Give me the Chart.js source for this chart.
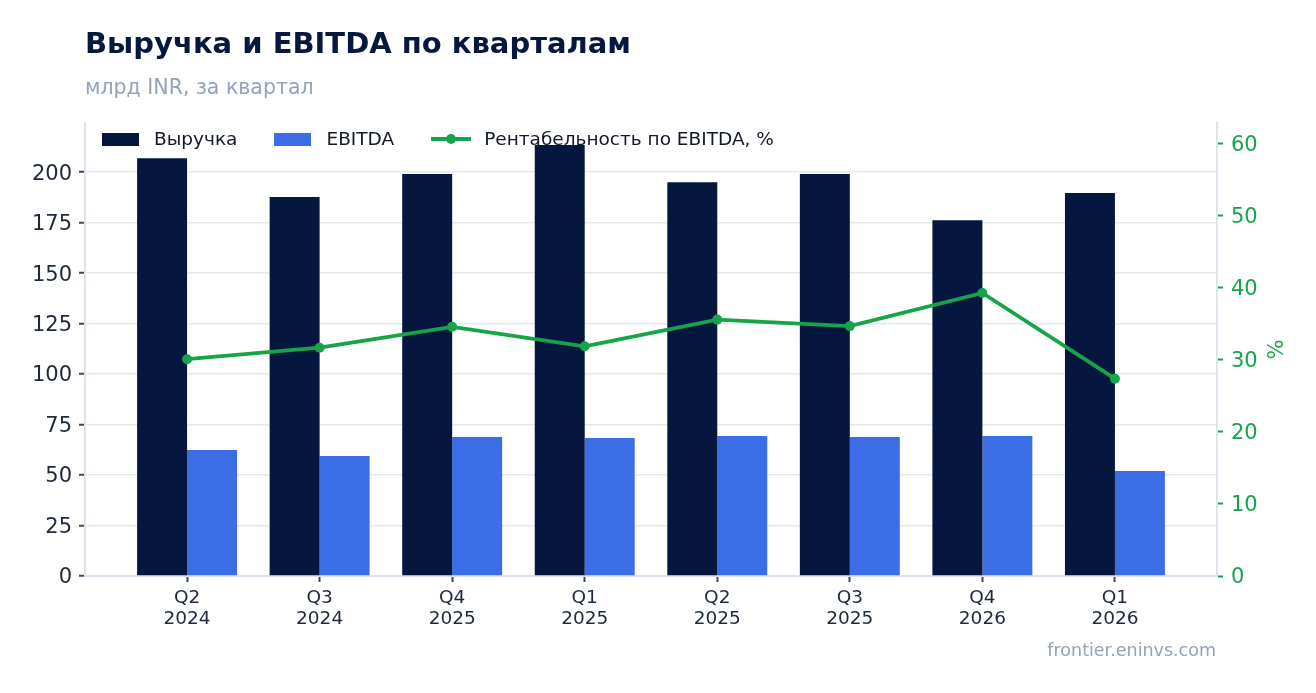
<!DOCTYPE html>
<html lang="ru">
<head>
<meta charset="utf-8">
<title>Выручка и EBITDA по кварталам</title>
<script src="https://cdn.jsdelivr.net/npm/chart.js@4.4.1/dist/chart.umd.min.js"></script>
<style>
  html, body { margin: 0; padding: 0; background: #fff; }
  body { font-family: "DejaVu Sans", sans-serif; }
  .wrap { position: relative; width: 1316px; height: 693px; overflow: hidden; }
  #chart { position: absolute; left: 0; top: 0; }
  .title { position: absolute; left: 85px; top: 28.5px; font-size: 29px; line-height: 1; font-weight: bold; color: #07183f; white-space: nowrap; }
  .subtitle { position: absolute; left: 85px; top: 77px; font-size: 20.5px; line-height: 1; color: #94a3b8; white-space: nowrap; }
  .legend { position: absolute; left: 102px; top: 130px; display: flex; align-items: center; font-size: 18.5px; line-height: 1; color: #111827; white-space: nowrap; }
  .legend .item { display: flex; align-items: center; margin-right: 37px; }
  .legend .sw { display: inline-block; width: 37px; height: 13px; margin-right: 15px; }
  .legend .ln { position: relative; display: inline-block; width: 40px; height: 13px; margin-right: 13px; }
  .legend .ln::before { content: ""; position: absolute; left: 0; right: 0; top: 4.5px; height: 4px; background: var(--c); }
  .legend .ln::after { content: ""; position: absolute; left: 15px; top: 1.5px; width: 10px; height: 10px; border-radius: 50%; background: var(--c); }
  .source { position: absolute; right: 100px; top: 642px; font-size: 17.5px; line-height: 1; color: #94a3b8; white-space: nowrap; }
</style>
</head>
<body>
<div class="wrap">
  <canvas id="chart" width="1316" height="693"></canvas>
  <div class="title">Выручка и EBITDA по кварталам</div>
  <div class="subtitle">млрд INR, за квартал</div>
  <div class="legend" id="legend"></div>
  <div class="source">frontier.eninvs.com</div>
</div>
<script>
// данные по кварталам
const quarters = ['Q2', 'Q3', 'Q4', 'Q1', 'Q2', 'Q3', 'Q4', 'Q1'];
const years = ['2024', '2024', '2025', '2025', '2025', '2025', '2026', '2026'];
const revenue = [206.9, 187.6, 199.0, 213.4, 195.0, 199.0, 176.2, 189.6];
const ebitda = [62.4, 59.4, 68.8, 68.3, 69.3, 68.8, 69.3, 52.0];
const margin = [30.1, 31.7, 34.6, 31.9, 35.6, 34.7, 39.3, 27.4];
const leftTicks = [0, 25, 50, 75, 100, 125, 150, 175, 200];
const rightTicks = [0, 10, 20, 30, 40, 50, 60];

const names = ['Выручка', 'EBITDA', 'Рентабельность по EBITDA, %'];
const NAVY = '#05173f';
const BLUE = '#3b6de6';
const GREEN = '#16a34a';
const TEXT = '#1e293b';
const GRID = '#e5e9f0';

const toXY = arr => arr.map((v, i) => ({ x: i, y: v }));

// легенда
const legendEl = document.getElementById('legend');
[[names[0], NAVY, 'sw'], [names[1], BLUE, 'sw'], [names[2], GREEN, 'ln']].forEach(([name, color, kind]) => {
  const item = document.createElement('span');
  item.className = 'item';
  const mark = document.createElement('span');
  mark.className = kind;
  if (kind === 'sw') mark.style.background = color;
  else mark.style.setProperty('--c', color);
  const txt = document.createElement('span');
  txt.textContent = name;
  item.appendChild(mark);
  item.appendChild(txt);
  legendEl.appendChild(item);
});

const ctx = document.getElementById('chart').getContext('2d');
new Chart(ctx, {
  type: 'bar',
  data: {
    datasets: [
      {
        label: names[0],
        data: toXY(revenue),
        backgroundColor: NAVY,
        categoryPercentage: 0.754,
        barPercentage: 1,
        order: 1
      },
      {
        label: names[1],
        data: toXY(ebitda),
        backgroundColor: BLUE,
        categoryPercentage: 0.754,
        barPercentage: 1,
        order: 1
      },
      {
        type: 'line',
        label: names[2],
        data: toXY(margin),
        yAxisID: 'y2',
        borderColor: GREEN,
        backgroundColor: GREEN,
        borderWidth: 3.8,
        pointRadius: 5,
        pointBorderWidth: 0,
        pointBackgroundColor: GREEN,
        tension: 0,
        order: 0
      }
    ]
  },
  options: {
    responsive: false,
    animation: false,
    devicePixelRatio: 1,
    layout: { padding: { top: 123, left: 0, right: 0, bottom: 0 } },
    plugins: {
      legend: { display: false },
      title: { display: false },
      tooltip: { enabled: true }
    },
    scales: {
      x: {
        type: 'linear',
        offset: false,
        min: -0.77,
        max: 7.77,
        afterBuildTicks: s => { s.ticks = quarters.map((_, i) => ({ value: i })); },
        afterFit: s => { s.height = 117; },
        ticks: {
          autoSkip: false,
          maxRotation: 0,
          padding: 6,
          color: TEXT,
          font: { family: 'DejaVu Sans', size: 18.5, lineHeight: 1.14 },
          callback: v => [quarters[v], years[v]]
        },
        grid: { offset: false, drawOnChartArea: false, tickLength: 6, tickWidth: 2, tickColor: '#3f4654' },
        border: { color: '#dde3ec', width: 2 }
      },
      y: {
        position: 'left',
        min: 0,
        max: 224.3,
        afterBuildTicks: s => { s.ticks = leftTicks.map(v => ({ value: v })); },
        afterFit: s => { s.width = 85; },
        ticks: {
          padding: 7,
          labelOffset: 2,
          color: TEXT,
          font: { family: 'DejaVu Sans', size: 21 }
        },
        grid: { color: GRID, lineWidth: 1.5, tickLength: 6, tickWidth: 2, tickColor: '#3f4654' },
        border: { color: '#dde3ec', width: 2 }
      },
      y2: {
        position: 'right',
        min: 0,
        max: 62.9,
        afterBuildTicks: s => { s.ticks = rightTicks.map(v => ({ value: v })); },
        afterFit: s => { s.width = 99; },
        ticks: {
          padding: 8,
          labelOffset: 2,
          color: GREEN,
          font: { family: 'DejaVu Sans', size: 21 }
        },
        grid: { drawOnChartArea: false, tickLength: 6, tickWidth: 2, tickColor: GREEN },
        border: { color: '#dde3ec', width: 2 },
        title: {
          display: true,
          text: '%',
          color: GREEN,
          padding: { top: 31, bottom: 0 },
          font: { family: 'DejaVu Sans', size: 21 }
        }
      }
    }
  }
});
</script>
</body>
</html>
